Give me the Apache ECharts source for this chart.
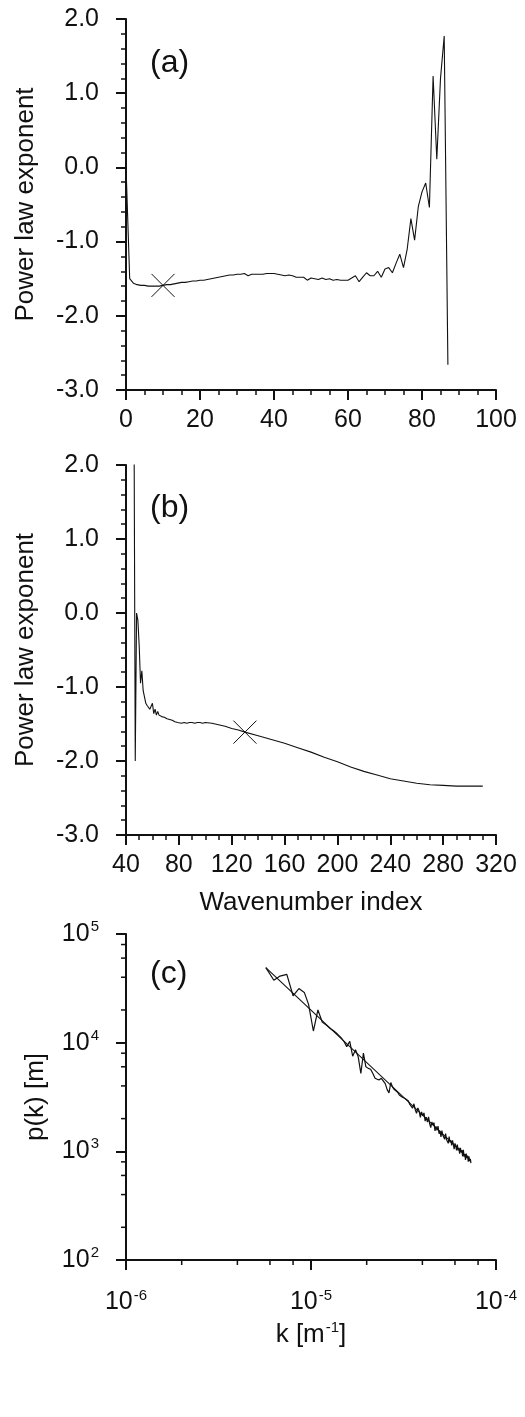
<!DOCTYPE html>
<html><head><meta charset="utf-8">
<script src="https://cdn.jsdelivr.net/npm/echarts@6/dist/echarts.min.js"></script>
<style>html,body{margin:0;padding:0;background:#fff}#c{width:525px;height:1417px}</style>
</head><body><div id="c"></div>
<script>
// ---------- Panel (a) ----------
const aIndex = [0,1,2,3,4,5,6,7,8,9,10,11,12,13,14,15,16,17,18,19,20,21,22,23,24,25,26,27,28,29,30,31,32,33,34,35,36,37,38,39,40,41,42,43,44,45,46,47,48,49,50,51,52,53,54,55,56,57,58,59,60,61,62,63,64,65,66,67,68,69,70,71,72,73,74,75,76,77,78,79,80,81,82,83,84,85,86,87];
const aExp = [0.02,-1.50,-1.56,-1.58,-1.59,-1.59,-1.60,-1.60,-1.60,-1.60,-1.59,-1.58,-1.58,-1.57,-1.56,-1.55,-1.55,-1.54,-1.53,-1.53,-1.52,-1.52,-1.51,-1.50,-1.49,-1.48,-1.47,-1.46,-1.45,-1.45,-1.44,-1.44,-1.43,-1.46,-1.44,-1.44,-1.44,-1.44,-1.43,-1.43,-1.43,-1.44,-1.45,-1.46,-1.45,-1.46,-1.48,-1.48,-1.48,-1.52,-1.49,-1.50,-1.51,-1.49,-1.51,-1.50,-1.52,-1.51,-1.52,-1.52,-1.52,-1.49,-1.46,-1.54,-1.48,-1.42,-1.46,-1.46,-1.40,-1.48,-1.37,-1.35,-1.42,-1.29,-1.17,-1.35,-1.10,-0.69,-0.98,-0.53,-0.33,-0.21,-0.54,1.23,0.11,1.20,1.77,-2.66];
const aMarker = [10, -1.59];

// ---------- Panel (b) ----------
const bIndex = [46,47,48,49,50,51,52,53,54,55,56,57,58,59,60,61,62,63,64,65,66,67,68,69,70,71,72,73,74,75,76,77,78,79,80,82,84,86,88,90,92,94,96,98,100,105,110,115,120,125,130,140,150,160,170,180,190,200,210,220,230,240,250,260,270,280,290,300,310];
const bExp = [3.0,-2.0,0.0,-0.1,-0.45,-0.95,-0.78,-1.05,-1.05,-1.22,-1.25,-1.27,-1.30,-1.28,-1.22,-1.36,-1.30,-1.38,-1.33,-1.38,-1.36,-1.40,-1.38,-1.41,-1.40,-1.43,-1.41,-1.44,-1.43,-1.45,-1.44,-1.47,-1.46,-1.48,-1.47,-1.49,-1.48,-1.49,-1.48,-1.48,-1.49,-1.48,-1.48,-1.49,-1.48,-1.49,-1.51,-1.53,-1.56,-1.58,-1.61,-1.66,-1.71,-1.76,-1.82,-1.88,-1.95,-2.01,-2.08,-2.14,-2.19,-2.24,-2.27,-2.30,-2.32,-2.33,-2.34,-2.34,-2.34];
const bMarker = [130, -1.61];

// ---------- Panel (c) ----------
const kUnit = 1e-6; // k values below are in units of 1e-6 m^-1
const cK = [5.7,6.3,6.8,7.4,8.0,8.6,9.2,9.7,10.3,10.9,11.5,12.1,12.7,13.3,13.9,14.5,15.1,15.6,16.2,16.8,17.4,18.0,18.6,19.2,19.8,20.4,21.0,21.6,22.2,22.8,23.4,24.0,24.6,25.2,25.8,26.4,27.0,27.6,28.2,28.8,29.4,30.0,30.6,31.2,31.8,32.4,33.0,33.6,34.2,34.8,
35.4,36.0,36.6,37.2,37.8,38.4,39.0,39.6,40.2,40.8,41.4,42.0,42.6,43.2,43.8,44.4,45.0,45.6,46.2,46.8,47.4,48.0,48.6,49.2,49.8,50.4,51.0,51.6,52.2,52.8,53.4,54.0,54.6,55.2,55.8,56.4,57.0,57.6,58.2,58.8,59.4,60.0,60.6,61.2,61.8,62.4,63.0,63.6,64.2,64.8,65.4,66.0,66.6,67.2,67.8,68.4,69.0,69.6,70.2,70.8,71.4,72.0,72.6,73.2];
const cP = [49000,37500,41000,42500,27000,31500,29000,22500,12800,20000,15500,14500,13500,12800,12000,11200,10200,9200,10300,7500,8600,7400,5200,8000,6000,5800,5700,5200,4700,4600,4550,4700,4900,4200,3700,3450,4300,3900,3700,3550,3500,3300,3350,3150,3200,3050,3000,2900,2700,2800,
2500,2740,2415,2235,2510,2355,2050,2310,2125,2260,1900,2060,1855,2080,1795,1650,1860,1750,1835,1545,1695,1560,1705,1450,1545,1355,1550,1405,1465,1290,1455,1285,1330,1185,1370,1210,1265,1135,1260,1160,1045,1185,1125,1020,1155,1020,1075,950,1075,980,1025,900,1030,895,945,835,955,865,915,805,900,810,855,780];
const fitK = [5.7, 73.2];
const fitP = [49000, 820];
const cMinorX = [2e-6,4e-6,6e-6,8e-6,2e-5,4e-5,6e-5,8e-5];
const cMinorY = [200,400,600,800,2000,4000,6000,8000,20000,40000,60000,80000];

const FONT = '"Liberation Sans", Arial, Helvetica, sans-serif';
const INK = '#111';
const LBL = 25;
const NAME = 26;

function linAxisBase() {
  return {
    axisLine: {show: true, onZero: false, lineStyle: {color: INK, width: 2}},
    axisTick: {show: true, inside: false, length: 10, lineStyle: {color: INK, width: 2}},
    minorTick: {show: true, length: 5, lineStyle: {color: INK, width: 1.5}},
    splitLine: {show: false},
    minorSplitLine: {show: false},
    axisLabel: {color: INK, fontFamily: FONT, fontSize: LBL},
    nameTextStyle: {color: INK, fontFamily: FONT, fontSize: NAME}
  };
}
function merge(a, b) { return Object.assign({}, a, b, {
  axisLabel: Object.assign({}, a.axisLabel, b.axisLabel || {}),
  minorTick: Object.assign({}, a.minorTick, b.minorTick || {}),
  nameTextStyle: Object.assign({}, a.nameTextStyle, b.nameTextStyle || {})
}); }

function supFmt(v) {
  const e = Math.round(Math.log10(v));
  return '{b|10}{s|' + e + '}';
}
const supRich = {
  b: {fontFamily: FONT, fontSize: LBL, color: INK},
  s: {fontFamily: FONT, fontSize: 15, color: INK, padding: [0, 0, 14, 1]}
};
const nameRich = {
  b: {fontFamily: FONT, fontSize: NAME, color: INK},
  s: {fontFamily: FONT, fontSize: 15, color: INK, padding: [0, 0, 14, 1]}
};

function crossSeries(xi, yi, pt) {
  return {
    type: 'custom', xAxisIndex: xi, yAxisIndex: yi, silent: true, z: 10,
    data: [pt],
    renderItem: function (params, api) {
      const p = api.coord([api.value(0), api.value(1)]);
      const h = 11.5;
      return {type: 'group', children: [
        {type: 'line', shape: {x1: p[0]-h, y1: p[1]-h, x2: p[0]+h, y2: p[1]+h}, style: {stroke: INK, lineWidth: 1}},
        {type: 'line', shape: {x1: p[0]-h, y1: p[1]+h, x2: p[0]+h, y2: p[1]-h}, style: {stroke: INK, lineWidth: 1}}
      ]};
    }
  };
}

const chart = echarts.init(document.getElementById('c'), null, {renderer: 'canvas'});
const option = {
  backgroundColor: '#fff',
  animation: false,
  title: [
    {text: '(a)', left: 145, top: 42, textStyle: {fontFamily: FONT, fontSize: 32, fontWeight: 'normal', color: INK}},
    {text: '(b)', left: 145, top: 487, textStyle: {fontFamily: FONT, fontSize: 32, fontWeight: 'normal', color: INK}},
    {text: '(c)', left: 145, top: 953, textStyle: {fontFamily: FONT, fontSize: 32, fontWeight: 'normal', color: INK}}
  ],
  grid: [
    {left: 126, top: 19, width: 370, height: 371},
    {left: 126, top: 465, width: 370, height: 370},
    {left: 126, top: 934, width: 370, height: 326}
  ],
  xAxis: [
    merge(linAxisBase(), {type: 'value', gridIndex: 0, min: 0, max: 100, interval: 20,
      minorTick: {splitNumber: 4}, axisLabel: {margin: 18}}),
    merge(linAxisBase(), {type: 'value', gridIndex: 1, min: 40, max: 320, interval: 40,
      minorTick: {splitNumber: 4}, axisLabel: {margin: 18},
      name: 'Wavenumber index', nameLocation: 'middle', nameGap: 55}),
    merge(linAxisBase(), {type: 'log', logBase: 10, gridIndex: 2, min: 1e-6, max: 1e-4,
      minorTick: {show: false}, axisLabel: {margin: 28, formatter: supFmt, rich: supRich},
      name: '{b|k [m}{s|-1}{b|]}', nameLocation: 'middle', nameGap: 60,
      nameTextStyle: {rich: nameRich}})
  ],
  yAxis: [
    merge(linAxisBase(), {type: 'value', gridIndex: 0, min: -3, max: 2, interval: 1,
      minorTick: {splitNumber: 5}, axisLabel: {margin: 27, formatter: v => v.toFixed(1)},
      name: 'Power law exponent', nameLocation: 'middle', nameGap: 87}),
    merge(linAxisBase(), {type: 'value', gridIndex: 1, min: -3, max: 2, interval: 1,
      minorTick: {splitNumber: 5}, axisLabel: {margin: 27, formatter: v => v.toFixed(1)},
      name: 'Power law exponent', nameLocation: 'middle', nameGap: 87}),
    merge(linAxisBase(), {type: 'log', logBase: 10, gridIndex: 2, min: 100, max: 1e5,
      minorTick: {show: false}, axisLabel: {margin: 27, formatter: supFmt, rich: supRich},
      name: 'p(k) [m]', nameLocation: 'middle', nameGap: 77})
  ],
  series: [
    {type: 'line', xAxisIndex: 0, yAxisIndex: 0, showSymbol: false, symbol: 'none', clip: true,
      data: aIndex.map((x, i) => [x, aExp[i]]), lineStyle: {color: INK, width: 1.1}},
    crossSeries(0, 0, aMarker),
    {type: 'line', xAxisIndex: 1, yAxisIndex: 1, showSymbol: false, symbol: 'none', clip: true,
      data: bIndex.map((x, i) => [x, bExp[i]]), lineStyle: {color: INK, width: 1.1}},
    crossSeries(1, 1, bMarker),
    {type: 'line', xAxisIndex: 2, yAxisIndex: 2, showSymbol: false, symbol: 'none', clip: true,
      data: cK.map((k, i) => [k * kUnit, cP[i]]), lineStyle: {color: INK, width: 1.2}},
    {type: 'line', xAxisIndex: 2, yAxisIndex: 2, showSymbol: false, symbol: 'none', clip: true,
      data: fitK.map((k, i) => [k * kUnit, fitP[i]]), lineStyle: {color: INK, width: 1.1}},
    {type: 'custom', xAxisIndex: 2, yAxisIndex: 2, silent: true, clip: false,
      data: cMinorX.map(v => [v, 100]),
      renderItem: function (params, api) {
        const p = api.coord([api.value(0), api.value(1)]);
        return {type: 'line', shape: {x1: p[0], y1: p[1], x2: p[0], y2: p[1] + 5}, style: {stroke: INK, lineWidth: 1.5}};
      }},
    {type: 'custom', xAxisIndex: 2, yAxisIndex: 2, silent: true, clip: false,
      data: cMinorY.map(v => [1e-6, v]),
      renderItem: function (params, api) {
        const p = api.coord([api.value(0), api.value(1)]);
        return {type: 'line', shape: {x1: p[0] - 5, y1: p[1], x2: p[0], y2: p[1]}, style: {stroke: INK, lineWidth: 1.5}};
      }}
  ]
};
chart.setOption(option);
</script>
</body></html>
